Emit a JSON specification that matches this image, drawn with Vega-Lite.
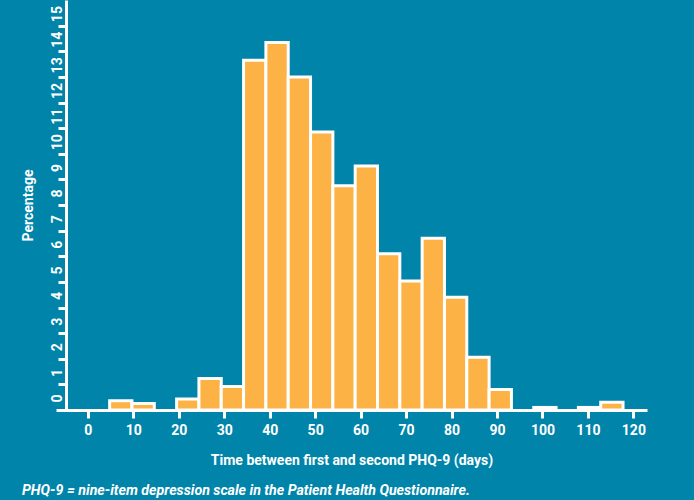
{
  "$schema": "https://vega.github.io/schema/vega-lite/v6.json",
  "width": 591,
  "height": 410,
  "autosize": "none",
  "padding": {"left": 56, "top": 0, "right": 47, "bottom": 90},
  "background": "#0084A9",
  "config": {"view": {"stroke": null}, "font": "Roboto"},
  "title": {
    "text": "PHQ-9 = nine-item depression scale in the Patient Health Questionnaire.",
    "orient": "bottom",
    "anchor": "start",
    "frame": "group",
    "dx": -34,
    "offset": 17,
    "color": "white",
    "font": "Roboto",
    "fontSize": 14.2,
    "fontWeight": "bold",
    "fontStyle": "italic"
  },
  "data": {
    "values": [
      {"start": 4.8, "end": 9.71, "pct": 0.36},
      {"start": 9.71, "end": 14.62, "pct": 0.25},
      {"start": 19.53, "end": 24.44, "pct": 0.43},
      {"start": 24.44, "end": 29.35, "pct": 1.23},
      {"start": 29.35, "end": 34.26, "pct": 0.92},
      {"start": 34.26, "end": 39.17, "pct": 13.65},
      {"start": 39.17, "end": 44.08, "pct": 14.34},
      {"start": 44.08, "end": 48.99, "pct": 13.0},
      {"start": 48.99, "end": 53.9, "pct": 10.85},
      {"start": 53.9, "end": 58.81, "pct": 8.75},
      {"start": 58.81, "end": 63.72, "pct": 9.52},
      {"start": 63.72, "end": 68.63, "pct": 6.1},
      {"start": 68.63, "end": 73.54, "pct": 5.03},
      {"start": 73.54, "end": 78.45, "pct": 6.7},
      {"start": 78.45, "end": 83.36, "pct": 4.4},
      {"start": 83.36, "end": 88.27, "pct": 2.06},
      {"start": 88.27, "end": 93.18, "pct": 0.8},
      {"start": 98.09, "end": 103.0, "pct": 0.1},
      {"start": 107.91, "end": 112.82, "pct": 0.1},
      {"start": 112.82, "end": 117.73, "pct": 0.3}
    ]
  },
  "mark": {"type": "rect", "fill": "#FDB245", "stroke": "white", "strokeWidth": 3},
  "encoding": {
    "x": {
      "field": "start",
      "type": "quantitative",
      "scale": {"domain": [-7, 123], "nice": false, "zero": false},
      "axis": {
        "values": [0, 10, 20, 30, 40, 50, 60, 70, 80, 90, 100, 110, 120],
        "grid": false,
        "domainColor": "white",
        "domainWidth": 3,
        "tickColor": "white",
        "tickWidth": 3,
        "tickSize": 8,
        "labelColor": "white",
        "labelFont": "Roboto",
        "labelFontSize": 14,
        "labelFontWeight": "bold",
        "labelPadding": 5,
        "title": "Time between first and second PHQ-9 (days)",
        "titleColor": "white",
        "titleFont": "Roboto",
        "titleFontSize": 14,
        "titleFontWeight": "bold",
        "titlePadding": 16
      }
    },
    "x2": {"field": "end"},
    "y": {
      "field": "pct",
      "type": "quantitative",
      "scale": {"domain": [0, 16], "nice": false},
      "axis": {
        "values": [0, 1, 2, 3, 4, 5, 6, 7, 8, 9, 10, 11, 12, 13, 14, 15],
        "offset": -10,
        "grid": false,
        "domainColor": "white",
        "domainWidth": 3,
        "tickColor": "white",
        "tickWidth": 3,
        "tickSize": 8,
        "labelColor": "white",
        "labelFont": "Roboto",
        "labelFontSize": 14,
        "labelFontWeight": "bold",
        "labelAngle": -90,
        "labelAlign": "center",
        "labelBaseline": "middle",
        "labelOffset": -12,
        "labelPadding": 1,
        "title": "Percentage",
        "titleColor": "white",
        "titleFont": "Roboto",
        "titleFontSize": 14,
        "titleFontWeight": "bold",
        "titlePadding": 15
      }
    },
    "y2": {"datum": 0}
  }
}
